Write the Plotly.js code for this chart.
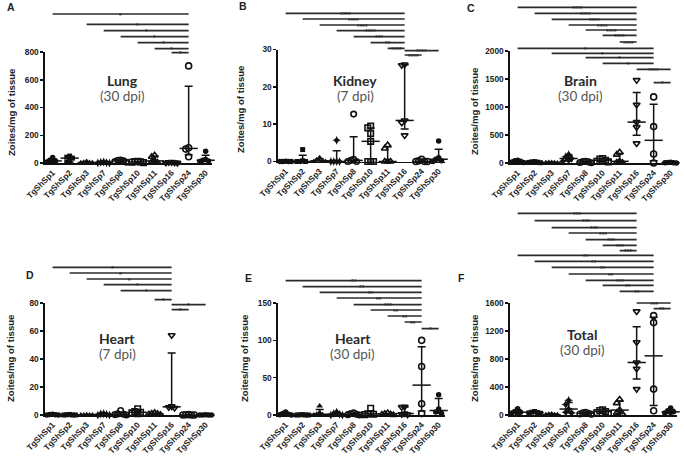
<!DOCTYPE html>
<html><head><meta charset="utf-8">
<script src="https://cdn.plot.ly/plotly-3.0.1.min.js"></script>
<style>html,body{margin:0;padding:0;background:#fff}</style>
</head><body><div id="chart" style="width:685px;height:456px"></div>
<script>
// ---------- DATA ----------
const categories = ['TgShSp1','TgShSp2','TgShSp3','TgShSp7','TgShSp8','TgShSp10','TgShSp11','TgShSp16','TgShSp24','TgShSp30'];

// A: Lung (30 dpi)
const lung30 = [[40,20,15,8,5],[50,42,35,10,5],[10,5,3,2,1],[8,5,3,1,0],[22,20,15,10,5],[12,10,8,5,3],[55,45,15,8,3],[6,5,3,2,1],[700,110,100,45],[85,25,20,15,10]];
// B: Kidney (7 dpi)
const kidney7 = [[0.1,0,0,0,0],[3.2,0.2,0,0,0],[1,0.5,0.2,0,0],[5.7,0,0,0,0],[12.7,0.6,0.3,0,0],[9.5,9.0,7.5,5.4,0,0,0],[4.4,3.5,0,0,0],[26,25.8,11,10.4,7],[0.6,0.2,0,0,0],[5.5,1,0.6,0.2,0]];
// C: Brain (30 dpi)
const brain30 = [[50,40,30,20,10],[25,20,15,10,5],[10,8,5,3,0],[150,110,80,50,30],[30,25,20,10,5],[80,70,50,30,20],[190,150,30,10,5],[1480,1040,730,640,350],[1180,650,160,0],[15,10,5,3,0]];
// D: Heart (7 dpi)
const heart7 = [[0.5,0.3,0.2,0,0],[0.4,0.2,0,0,0],[0.2,0,0,0,0],[1,0.8,0.5,0,0],[3.2,0.8,0.5,0.3,0],[4.5,2.5,2,1.5,1],[1.5,1,0.8,0.5,0.2],[57,6.2,5.5,5],[0.3,0.2,0,0,0],[0.2,0,0,0,0]];
// E: Heart (30 dpi)
const heart30 = [[4,2,1,0.5,0],[0.5,0.3,0,0,0],[12,3,1,0.5,0],[4,2,1,0,0],[3,2,1,0.5,0],[9,2,1.5,1,0.5],[2.5,1.5,1,0.5,0],[11,10.5,2,1,0.5],[100,65,15,2],[27,8,4,2]];
// F: Total (30 dpi)
const total30 = [[90,50,40,30,20],[50,40,35,30,25],[15,10,5,3,2],[210,150,85,40,30],[40,30,25,15,10],[75,65,50,35,25],[220,170,70,30,15],[1480,1040,750,660,370],[1420,1320,370,60],[100,60,45,35,30]];

// significance comparisons [fromIndex, toIndex, label]
const sigA = [[0,8,'*'],[2,8,'*'],[3,8,'*'],[4,8,'*'],[5,8,'*'],[6,8,'*'],[7,8,'*']];
const sigB = [[0,7,'****'],[1,7,'****'],[2,7,'****'],[3,7,'****'],[4,7,'***'],[5,7,'**'],[6,7,'****'],[7,9,'****'],[7,8,'****']];
const sigC = [[0,7,'****'],[1,7,'****'],[2,7,'****'],[3,7,'****'],[4,7,'****'],[5,7,'****'],[6,7,'****'],[0,8,'*'],[2,8,'*'],[4,8,'*'],[5,8,'*'],[7,9,'****'],[8,9,'*']];
const sigD = [[0,7,'*'],[1,7,'*'],[2,7,'*'],[3,7,'*'],[4,7,'*'],[6,7,'*'],[7,9,'*'],[7,8,'*']];
const sigE = [[0,8,'**'],[1,8,'**'],[2,8,'**'],[3,8,'**'],[4,8,'***'],[5,8,'**'],[6,8,'**'],[7,8,'**'],[8,9,'*']];
const sigF = [[0,7,'***'],[1,7,'***'],[2,7,'***'],[3,7,'***'],[4,7,'***'],[5,7,'***'],[6,7,'***'],[0,8,'**'],[1,8,'**'],[2,8,'**'],[3,8,'**'],[4,8,'***'],[5,8,'**'],[6,8,'**'],[7,9,'***'],[8,9,'**']];

// ---------- LAYOUT (positions in page pixels) ----------
const sigAy = [14,24.3,30.7,36.7,42.7,48.7,52.7];
const sigBy = [13.3,19,25,30.7,36.7,42.7,48.3,50.7,55];
const sigCy = [7.3,13.3,19.3,25,30,35.3,42,48.3,53.3,57.7,63.3,69.3,82.7];
const sigDy = [267.3,273,279,284.7,290.7,299.7,304.7,309.7];
const sigEy = [280.7,286.7,292.3,298,304.7,310,316,322,328.7];
const sigFy = [213.3,220.7,227.7,233,239.7,245.3,250.7,255.3,261.3,267.3,274,280.3,285.3,291.3,303,308.7];

const W = 685, H = 456;
const px = x => x / W, py = y => 1 - y / H;
const SPACING = 17, R0 = -0.45, R1 = 9.4;
const INK = '#111';
const symbols = ['circle','square','triangle-up','star-diamond','circle-open','square-open','triangle-up-open','triangle-down-open','circle-open','circle'];
const sizes   = [5.5,5,6,6.5,5.5,5.5,6,6,6,5.5];

const panels = [
  {data: lung30,  sig: sigA, sigY: sigAy, x0: 45,  top: 52,   bottom: 163,   ymax: 800,  ticks: [0,200,400,600,800],       letter: 'A', lp: [11,7],     ttl: 'Zoites/mg of tissue', tp: [12,113],  name: 'Lung',   sub: '(30 dpi)', np: [122,80]},
  {data: kidney7, sig: sigB, sigY: sigBy, x0: 278, top: 49.5, bottom: 161.5, ymax: 30,   ticks: [0,10,20,30],              letter: 'B', lp: [243,6],    ttl: 'Zoites/mg of tissue', tp: [241,110], name: 'Kidney', sub: '(7 dpi)',  np: [355,80]},
  {data: brain30, sig: sigC, sigY: sigCy, x0: 510, top: 51,   bottom: 163,   ymax: 2000, ticks: [0,500,1000,1500,2000],    letter: 'C', lp: [471,8],    ttl: 'Zoites/mg of tissue', tp: [474,112], name: 'Brain',  sub: '(30 dpi)', np: [580,80]},
  {data: heart7,  sig: sigD, sigY: sigDy, x0: 45,  top: 303,  bottom: 415,   ymax: 80,   ticks: [0,20,40,60,80],           letter: 'D', lp: [30,274.5], ttl: 'Zoites/mg of tissue', tp: [10,359],  name: 'Heart',  sub: '(7 dpi)',  np: [117,338]},
  {data: heart30, sig: sigE, sigY: sigEy, x0: 278, top: 303,  bottom: 415,   ymax: 150,  ticks: [0,50,100,150],            letter: 'E', lp: [248,278],  ttl: 'Zoites/mg of tissue', tp: [244,359], name: 'Heart',  sub: '(30 dpi)', np: [353,338]},
  {data: total30, sig: sigF, sigY: sigFy, x0: 510, top: 303,  bottom: 415,   ymax: 1600, ticks: [0,400,800,1200,1600],     letter: 'F', lp: [461,278],  ttl: 'Zoites/mg of tissue', tp: [474,359], name: 'Total',  sub: '(30 dpi)', np: [582,334]}
];

// percentile (n+1 method, as GraphPad)
function quant(s, p) {
  const n = s.length, r = p * (n + 1);
  if (r <= 1) return s[0];
  if (r >= n) return s[n - 1];
  const f = Math.floor(r);
  return s[f - 1] + (r - f) * (s[f] - s[f - 1]);
}
// simple deterministic beeswarm offsets (category units)
function swarm(vals, ppu) {
  const D = 0.17, RPX = 4.5;
  const placed = [], offs = new Array(vals.length).fill(0);
  const order = vals.map((v, i) => i).sort((a, b) => vals[b] - vals[a]);
  for (const i of order) {
    const yp = vals[i] * ppu;
    for (let k = 0; k < 30; k++) {
      const o = (k === 0 ? 0 : (k % 2 ? -1 : 1) * Math.ceil(k / 2)) * D;
      if (!placed.some(q => Math.abs(q.o - o) < D * 0.99 && Math.abs(q.y - yp) < RPX)) {
        offs[i] = o; placed.push({o, y: yp}); break;
      }
    }
  }
  return offs;
}

const traces = [], shapes = [], annotations = [];
const layout = {
  width: W, height: H, margin: {l: 0, r: 0, t: 0, b: 0},
  paper_bgcolor: '#fff', plot_bgcolor: 'rgba(0,0,0,0)', showlegend: false,
  font: {family: 'Liberation Sans, Arial, sans-serif', color: '#222'}
};
const boldFont = (s, c) => ({family: 'Liberation Sans, Arial, sans-serif', size: s, color: c || '#222', weight: 'bold'});

panels.forEach((p, k) => {
  const sfx = k === 0 ? '' : String(k + 1);
  const xa = 'x' + sfx, ya = 'y' + sfx;
  layout['xaxis' + sfx] = {
    domain: [px(p.x0), px(p.x0 + SPACING * (R1 - R0))], range: [R0, R1], anchor: ya,
    tickmode: 'array', tickvals: categories.map((c, i) => i), ticktext: categories,
    tickangle: -45, tickfont: boldFont(8.3, '#222'), ticks: '',
    showline: true, linecolor: INK, linewidth: 1.7, showgrid: false, zeroline: false, fixedrange: true
  };
  layout['yaxis' + sfx] = {
    domain: [py(p.bottom), py(p.top)], range: [0, p.ymax], anchor: xa,
    tickmode: 'array', tickvals: p.ticks, ticks: 'outside', ticklen: 3, tickwidth: 1.5, tickcolor: INK,
    tickfont: boldFont(8.3, '#222'),
    showline: true, linecolor: INK, linewidth: 1.7, showgrid: false, zeroline: false, fixedrange: true
  };
  const ppu = (p.bottom - p.top) / p.ymax;
  const med = [], up = [], dn = [];
  p.data.forEach((vals, i) => {
    const offs = swarm(vals, ppu);
    const open = symbols[i].endsWith('-open');
    traces.push({
      type: 'scatter', mode: 'markers', xaxis: xa, yaxis: ya, cliponaxis: false, hoverinfo: 'skip',
      x: vals.map((v, j) => i + offs[j]), y: vals,
      marker: {symbol: symbols[i], size: sizes[i], color: INK, line: {color: INK, width: open ? 1.6 : 0}}
    });
    const s = vals.slice().sort((a, b) => a - b);
    const m = quant(s, 0.5), q1 = quant(s, 0.25), q3 = quant(s, 0.75);
    med.push(m); up.push(q3 - m); dn.push(m - q1);
  });
  traces.push({
    type: 'scatter', mode: 'markers', xaxis: xa, yaxis: ya, cliponaxis: false, hoverinfo: 'skip',
    x: categories.map((c, i) => i), y: med,
    marker: {symbol: 'line-ew', size: 13, color: INK, line: {color: INK, width: 1.5}},
    error_y: {type: 'data', symmetric: false, array: up, arrayminus: dn, color: INK, thickness: 1.5, width: 4}
  });
  // significance bars
  p.sig.forEach((s, j) => {
    const yy = py(p.sigY[j]);
    shapes.push({type: 'line', xref: xa, yref: 'paper', x0: s[0], x1: s[1], y0: yy, y1: yy,
      line: {color: '#2b2b2b', width: 1.7}});
    annotations.push({xref: xa, yref: 'paper', x: (s[0] + s[1]) / 2, y: py(p.sigY[j] + 0.6),
      text: s[2], showarrow: false, xanchor: 'center', yanchor: 'middle',
      height: 4.2, borderpad: 0, valign: 'middle',
      font: boldFont(6.8, '#2b2b2b')});
  });
  // texts
  annotations.push({xref: 'paper', yref: 'paper', x: px(p.lp[0]), y: py(p.lp[1]), text: p.letter,
    showarrow: false, xanchor: 'center', yanchor: 'middle', font: boldFont(10.5, '#222')});
  annotations.push({xref: 'paper', yref: 'paper', x: px(p.tp[0]), y: py(p.tp[1]), text: p.ttl, textangle: -90,
    showarrow: false, xanchor: 'center', yanchor: 'middle', font: boldFont(9.6, '#222')});
  annotations.push({xref: 'paper', yref: 'paper', x: px(p.np[0]), y: py(p.np[1]), text: p.name,
    showarrow: false, xanchor: 'center', yanchor: 'middle', height: 16, borderpad: 0, valign: 'middle',
    font: {family: 'Lato, Open Sans, sans-serif', size: 14, color: '#2a2a2a', weight: 'bold'}});
  annotations.push({xref: 'paper', yref: 'paper', x: px(p.np[0]), y: py(p.np[1] + 16.3), text: p.sub,
    showarrow: false, xanchor: 'center', yanchor: 'middle', height: 16, borderpad: 0, valign: 'middle',
    font: {family: 'Lato, Open Sans, sans-serif', size: 13.5, color: '#555'}});
});
layout.shapes = shapes;
layout.annotations = annotations;
Plotly.newPlot('chart', traces, layout, {displayModeBar: false, staticPlot: true});
</script>
</body></html>
